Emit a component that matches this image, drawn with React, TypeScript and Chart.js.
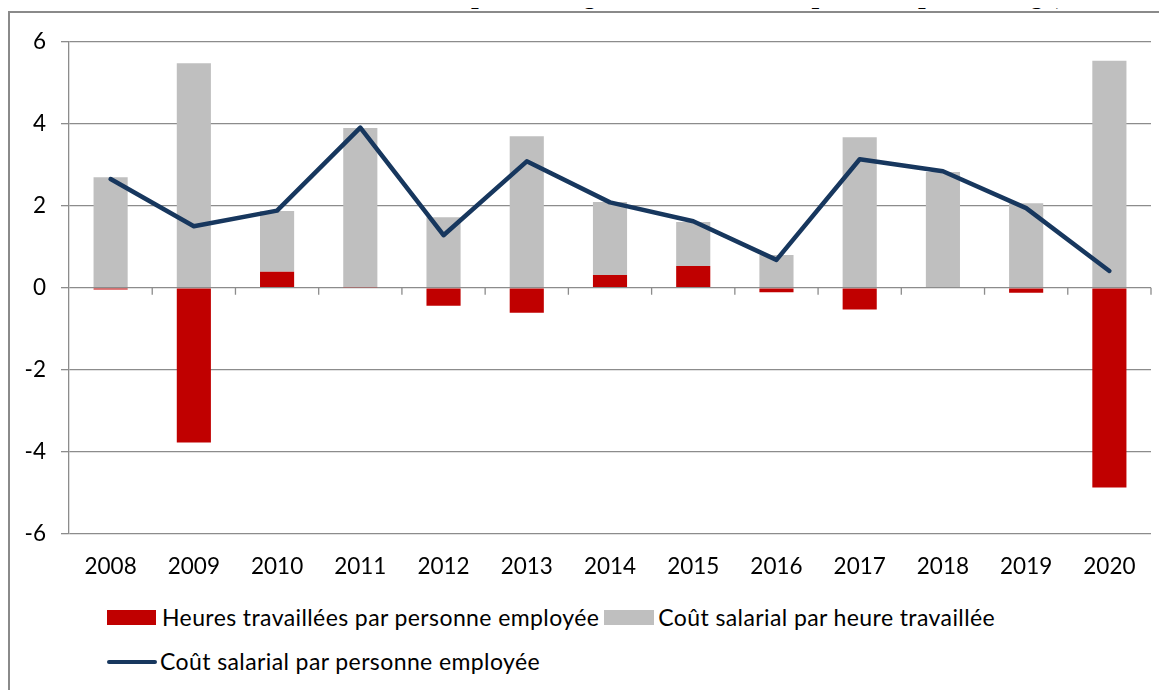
import React, { useEffect, useRef } from "react";
import { Chart, registerables } from "chart.js";

Chart.register(...registerables);

const years = ["2008", "2009", "2010", "2011", "2012", "2013", "2014", "2015", "2016", "2017", "2018", "2019", "2020"];
const hoursPerEmployee = [-0.04, -3.77, 0.39, 0.01, -0.44, -0.61, 0.31, 0.53, -0.11, -0.53, 0.0, -0.12, -4.87];
const costPerHour = [2.69, 5.47, 1.48, 3.88, 1.72, 3.69, 1.78, 1.07, 0.8, 3.67, 2.82, 2.06, 5.53];
const costPerEmployee = [2.65, 1.5, 1.88, 3.9, 1.28, 3.08, 2.08, 1.62, 0.68, 3.13, 2.84, 1.94, 0.41];
const yMin = -6;
const yMax = 6;
const yStep = 2;

const seriesNames = [
  "Heures travaillées par personne employée",
  "Coût salarial par heure travaillée",
  "Coût salarial par personne employée",
];
const titleText = "Évolution annuelle en pourcentage, contributions en points de pourcentage)";

const RED = "#C00000";
const GREY = "#BFBFBF";
const NAVY = "#17375E";
const GRID = "#8c8c8c";
const FONT = "Lato";

export default function App() {
  const ref = useRef<HTMLCanvasElement>(null);

  useEffect(() => {
    document.documentElement.style.overflow = "hidden";
    document.body.style.overflow = "hidden";
    const canvas = ref.current;
    if (!canvas) return;

    const zeroTicks = {
      id: "zeroTicks",
      beforeDatasetsDraw(chart: any) {
        const x = chart.scales.x;
        const y = chart.scales.y;
        const y0 = y.getPixelForValue(0);
        const ctx = chart.ctx;
        ctx.save();
        ctx.strokeStyle = GRID;
        ctx.lineWidth = 1.3;
        ctx.beginPath();
        const n = years.length;
        for (let i = 0; i < n; i++) {
          const c = x.getPixelForValue(i);
          const next = i < n - 1 ? x.getPixelForValue(i + 1) : c + (c - x.getPixelForValue(i - 1));
          const b = (c + next) / 2;
          ctx.moveTo(b, y0);
          ctx.lineTo(b, y0 + 7);
        }
        ctx.stroke();
        ctx.restore();
      },
    };

    const chart = new Chart(canvas, {
      type: "bar",
      data: {
        labels: years,
        datasets: [
          {
            type: "line",
            label: seriesNames[2],
            data: costPerEmployee,
            borderColor: NAVY,
            backgroundColor: NAVY,
            borderWidth: 4.5,
            pointRadius: 0,
            borderJoinStyle: "round",
            borderCapStyle: "round",
            tension: 0,
            stack: "line",
            order: 0,
          } as any,
          {
            type: "bar",
            label: seriesNames[0],
            data: hoursPerEmployee,
            backgroundColor: RED,
            barPercentage: 0.41,
            categoryPercentage: 1,
            stack: "bars",
            order: 1,
          },
          {
            type: "bar",
            label: seriesNames[1],
            data: costPerHour,
            backgroundColor: GREY,
            barPercentage: 0.41,
            categoryPercentage: 1,
            stack: "bars",
            order: 2,
          },
        ],
      },
      options: {
        responsive: false,
        animation: false,
        devicePixelRatio: 1,
        layout: { padding: { top: 22, right: 9, bottom: 0, left: 0 } },
        plugins: {
          legend: { display: false },
          title: { display: false },
          tooltip: { enabled: false },
        },
        scales: {
          x: {
            stacked: true,
            offset: true,
            grid: { display: false, drawTicks: false },
            border: { display: false },
            ticks: {
              padding: 19,
              color: "#000",
              font: { family: FONT, size: 22.5 },
              maxRotation: 0,
              autoSkip: false,
            },
            afterFit(scale: any) {
              scale.height = 46;
            },
          },
          y: {
            stacked: true,
            min: yMin,
            max: yMax,
            ticks: {
              stepSize: yStep,
              padding: 15,
              color: "#000",
              font: { family: FONT, size: 22.5 },
            },
            grid: {
              color: GRID,
              lineWidth: 1.3,
              drawTicks: true,
              tickLength: 8,
            },
            border: { display: true, color: GRID, width: 1.3 },
            afterFit(scale: any) {
              scale.width = 59;
            },
          },
        },
      },
      plugins: [zeroTicks],
    });

    return () => chart.destroy();
  }, []);

  const legendText: React.CSSProperties = {
    fontFamily: FONT,
    fontSize: 23,
    letterSpacing: "0.4px",
    lineHeight: "25px",
    color: "#000",
    whiteSpace: "nowrap",
  };

  return (
    <div style={{ position: "relative", width: 1159, height: 682 }}>
      <div
        style={{
          position: "absolute",
          left: 211,
          top: -27,
          fontFamily: "'Liberation Serif', serif",
          fontWeight: "bold",
          fontStyle: "italic",
          fontSize: 27,
          lineHeight: "27px",
          whiteSpace: "nowrap",
          color: "#000",
        }}
      >
        {titleText}
      </div>
      <div
        style={{
          position: "absolute",
          left: 0,
          top: 3,
          width: 1200,
          height: 720,
          border: "2px solid #8a8a8a",
          boxSizing: "border-box",
        }}
      />
      <canvas
        ref={ref}
        width={1150}
        height={567}
        style={{ position: "absolute", left: 2, top: 5, width: 1150, height: 567 }}
      />
      <div style={{ position: "absolute", left: 99, top: 597, display: "flex", alignItems: "center", height: 25 }}>
        <div style={{ width: 49, height: 15, background: RED, marginRight: 6 }} />
        <span style={legendText}>{seriesNames[0]}</span>
        <div style={{ width: 50, height: 15, background: GREY, marginLeft: 5, marginRight: 4 }} />
        <span style={legendText}>{seriesNames[1]}</span>
      </div>
      <div style={{ position: "absolute", left: 99, top: 641, display: "flex", alignItems: "center", height: 25 }}>
        <div style={{ width: 50, height: 4, background: NAVY, borderRadius: 2, marginRight: 3 }} />
        <span style={legendText}>{seriesNames[2]}</span>
      </div>
    </div>
  );
}
